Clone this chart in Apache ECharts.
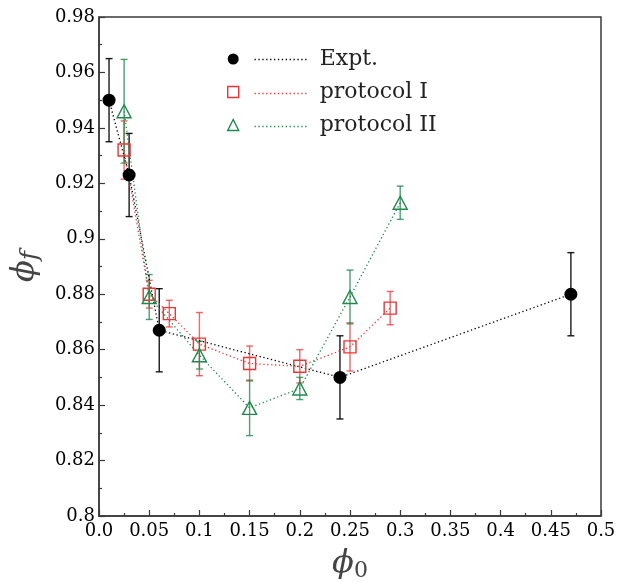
<!DOCTYPE html>
<html>
<head>
<meta charset="utf-8">
<script src="https://cdn.jsdelivr.net/npm/echarts@6/dist/echarts.min.js"></script>
<style>
  html, body { margin: 0; padding: 0; background: #fff; }
  #chart { width: 617px; height: 582px; }
</style>
</head>
<body>
<div id="chart"></div>
<script>
// Packing fraction data: initial phi_0 vs final phi_f
const exptX = [0.01, 0.03, 0.06, 0.24, 0.47];
const exptY = [0.950, 0.923, 0.867, 0.850, 0.880];
const exptErr = [0.015, 0.015, 0.015, 0.015, 0.015];

const protoIX = [0.025, 0.05, 0.07, 0.10, 0.15, 0.20, 0.25, 0.29];
const protoIY = [0.932, 0.880, 0.873, 0.862, 0.855, 0.854, 0.861, 0.875];
const protoIErr = [0.0105, 0.005, 0.0048, 0.0114, 0.0063, 0.006, 0.0087, 0.006];

const protoIIX = [0.025, 0.05, 0.10, 0.15, 0.20, 0.25, 0.30];
const protoIIY = [0.946, 0.879, 0.858, 0.839, 0.846, 0.879, 0.913];
const protoIIErr = [0.0187, 0.0081, 0.005, 0.010, 0.004, 0.0097, 0.006];

const seriesNames = ['Expt.', 'protocol I', 'protocol II'];

const BLACK = '#000000';
const RED = '#ee3434';
const GREEN = '#1f8a4c';
const FONT = 'DejaVu Serif';

function pairs(xs, ys) { return xs.map((x, i) => [x, ys[i]]); }
function triples(xs, ys, es) { return xs.map((x, i) => [x, ys[i], es[i]]); }

function errorBars(name, xs, ys, es, color, width, opacity) {
  return {
    type: 'custom',
    name: name,
    data: triples(xs, ys, es),
    encode: { x: 0, y: 1 },
    z: 1,
    silent: true,
    renderItem: function (params, api) {
      const x = api.value(0), y = api.value(1), e = api.value(2);
      const top = api.coord([x, y + e]);
      const bot = api.coord([x, y - e]);
      const cap = 3.5;
      const style = { stroke: color, lineWidth: width, opacity: opacity };
      return {
        type: 'group',
        children: [
          { type: 'line', shape: { x1: top[0], y1: top[1], x2: bot[0], y2: bot[1] }, style: style },
          { type: 'line', shape: { x1: top[0] - cap, y1: top[1], x2: top[0] + cap, y2: top[1] }, style: style },
          { type: 'line', shape: { x1: bot[0] - cap, y1: bot[1], x2: bot[0] + cap, y2: bot[1] }, style: style }
        ]
      };
    }
  };
}

const chart = echarts.init(document.getElementById('chart'), null, { renderer: 'canvas' });

const axisLine = { show: true, lineStyle: { color: '#3a3a3a', width: 1.5 } };

const option = {
  animation: false,
  backgroundColor: '#ffffff',
  grid: {
    left: 99, right: 16, top: 17, bottom: 66,
    containLabel: false,
    outerBoundsMode: 'none',
    show: true, borderColor: '#3a3a3a', borderWidth: 1.5, backgroundColor: 'transparent'
  },
  xAxis: {
    type: 'value',
    min: 0, max: 0.5, interval: 0.05,
    axisLine: axisLine,
    axisTick: { show: true, inside: true, length: 6, lineStyle: { color: '#3a3a3a', width: 1.2 } },
    minorTick: { show: true, splitNumber: 2, length: 3, lineStyle: { color: '#3a3a3a', width: 1.2 } },
    splitLine: { show: false },
    axisLabel: {
      color: '#000', fontFamily: FONT, fontSize: 18, margin: 6,
      formatter: v => v === 0 ? '0.0' : String(+v.toFixed(2))
    },
    name: '{p|ϕ}{s|0}',
    nameLocation: 'middle',
    nameGap: 30,
    nameTextStyle: {
      rich: {
        p: { fontFamily: FONT, fontStyle: 'italic', fontSize: 32, color: '#444', lineHeight: 36 },
        s: { fontFamily: FONT, fontSize: 22, color: '#444', lineHeight: 36, verticalAlign: 'bottom', padding: [14, 0, 0, 0] }
      }
    }
  },
  yAxis: {
    type: 'value',
    min: 0.8, max: 0.98, interval: 0.02,
    axisLine: axisLine,
    axisTick: { show: true, inside: true, length: 6, lineStyle: { color: '#3a3a3a', width: 1.2 } },
    minorTick: { show: true, splitNumber: 2, length: 3, lineStyle: { color: '#3a3a3a', width: 1.2 } },
    splitLine: { show: false },
    axisLabel: {
      color: '#000', fontFamily: FONT, fontSize: 18, margin: 4,
      formatter: v => String(+v.toFixed(2))
    },
    name: '{p|ϕ}{s|f}',
    nameLocation: 'middle',
    nameGap: 56,
    nameRotate: 90,
    nameTextStyle: {
      rich: {
        p: { fontFamily: FONT, fontStyle: 'italic', fontSize: 32, color: '#444', lineHeight: 36 },
        s: { fontFamily: FONT, fontStyle: 'italic', fontSize: 25, color: '#444', lineHeight: 36, verticalAlign: 'bottom', padding: [12, 0, 0, 0] }
      }
    }
  },
  legend: {
    orient: 'vertical',
    left: 222, top: 42,
    itemWidth: 11, itemHeight: 11,
    itemGap: 9,
    textStyle: { fontFamily: FONT, fontSize: 22, color: '#222', lineHeight: 24, padding: [0, 0, 0, 76] },
    data: [
      { name: seriesNames[0], icon: 'circle', itemStyle: { color: BLACK } },
      { name: seriesNames[1], icon: 'rect', itemStyle: { color: '#ffffff', borderColor: RED, borderWidth: 1.4 } },
      { name: seriesNames[2], icon: 'triangle', itemStyle: { color: '#ffffff', borderColor: GREEN, borderWidth: 1.4 } }
    ]
  },
  graphic: [
    // dotted line samples beside the legend symbols
    { type: 'line', left: 252, top: 57, shape: { x1: 0, y1: 0, x2: 52, y2: 0 }, style: { stroke: BLACK, lineWidth: 1.3, lineDash: [1.3, 2.6] } },
    { type: 'line', left: 252, top: 91, shape: { x1: 0, y1: 0, x2: 52, y2: 0 }, style: { stroke: RED, lineWidth: 1.3, lineDash: [1.3, 2.6] } },
    { type: 'line', left: 252, top: 124, shape: { x1: 0, y1: 0, x2: 52, y2: 0 }, style: { stroke: GREEN, lineWidth: 1.3, lineDash: [1.3, 2.6] } }
  ],
  series: [
    errorBars(seriesNames[0], exptX, exptY, exptErr, BLACK, 1.4, 0.9),
    errorBars(seriesNames[1], protoIX, protoIY, protoIErr, RED, 1.4, 0.75),
    errorBars(seriesNames[2], protoIIX, protoIIY, protoIIErr, GREEN, 1.4, 0.8),
    {
      type: 'line', name: seriesNames[0], data: pairs(exptX, exptY), z: 3,
      symbol: 'circle', symbolSize: 13, showAllSymbol: true,
      itemStyle: { color: BLACK },
      lineStyle: { color: BLACK, width: 1.3, type: [1.3, 2.6] }
    },
    {
      type: 'line', name: seriesNames[1], data: pairs(protoIX, protoIY), z: 3,
      symbol: 'rect', symbolSize: 12, showAllSymbol: true,
      itemStyle: { color: 'rgba(255,255,255,0)', borderColor: RED, borderWidth: 1.4 },
      lineStyle: { color: RED, width: 1.3, type: [1.3, 2.6] }
    },
    {
      type: 'line', name: seriesNames[2], data: pairs(protoIIX, protoIIY), z: 3,
      symbol: 'triangle', symbolSize: [14, 13], showAllSymbol: true,
      itemStyle: { color: 'rgba(255,255,255,0)', borderColor: GREEN, borderWidth: 1.4 },
      lineStyle: { color: GREEN, width: 1.3, type: [1.3, 2.6] }
    }
  ]
};

chart.setOption(option);
</script>
</body>
</html>
